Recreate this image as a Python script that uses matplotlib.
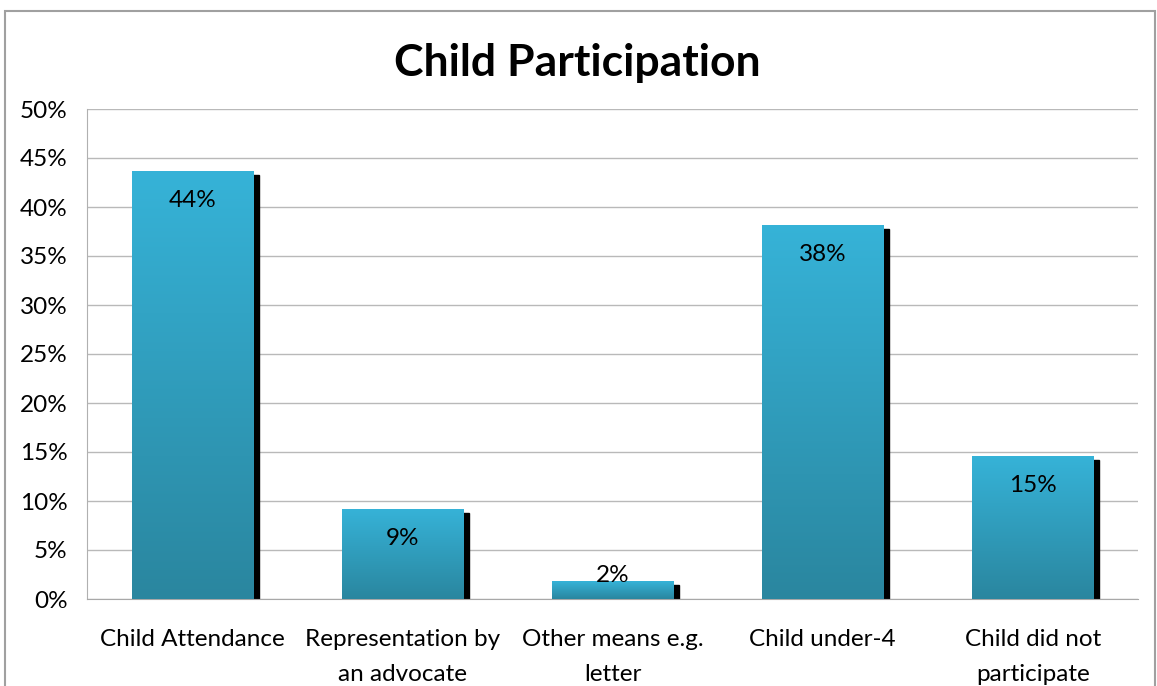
import numpy as np
import matplotlib.pyplot as plt
from matplotlib.colors import LinearSegmentedColormap
from matplotlib.transforms import ScaledTranslation
from matplotlib.patches import Rectangle

categories = ['Child Attendance', 'Representation by\nan advocate', 'Other means e.g.\nletter',
              'Child under-4', 'Child did not\nparticipate']
values = [43.7, 9.2, 1.8, 38.2, 14.6]
yticks = [0, 5, 10, 15, 20, 25, 30, 35, 40, 45, 50]

plt.rcParams['font.family'] = ['Lato', 'DejaVu Sans']

fig = plt.figure(figsize=(11.57, 6.86), dpi=100)
ax = fig.add_axes([87 / 1157, 1 - 599 / 686, (1138 - 87) / 1157, (599 - 109) / 686])

# outer chart border
fig.add_artist(Rectangle((5 / 1157, -0.1), (1155 - 5) / 1157, 1.1 - 11 / 686,
                         transform=fig.transFigure, fill=False, ec='#a0a0a0', lw=1.5))

x = np.arange(len(categories))
bars = ax.bar(x, values, width=0.576, color='none', zorder=3)

cmap = LinearSegmentedColormap.from_list('bar', ['#2a869f', '#36b3d8'])
grad = np.linspace(0, 1, 256).reshape(-1, 1)
shift = ax.transData + ScaledTranslation(6 / 100, -4 / 100, fig.dpi_scale_trans)

for b, v in zip(bars, values):
    x0, w = b.get_x(), b.get_width()
    # drop shadow to the lower right
    ax.add_patch(Rectangle((x0, 0), w, v, color='black', transform=shift, zorder=2))
    im = ax.imshow(grad, extent=[x0, x0 + w, 0, v], origin='lower', aspect='auto',
                   cmap=cmap, zorder=3)
    im.set_clip_path(b)
    # value label inside the top of the bar, or just above the baseline when short
    h_px = v / 50 * 490
    if h_px > 60:
        ax.annotate(f'{v:.0f}%', (x0 + w / 2, v), xytext=(0, -30 * 0.72),
                    textcoords='offset points', ha='center', va='center', fontsize=17.5, zorder=4)
    else:
        ax.annotate(f'{v:.0f}%', (x0 + w / 2, 0), xytext=(0, 24 * 0.72),
                    textcoords='offset points', ha='center', va='center', fontsize=17.5, zorder=4)

ax.set_xlim(-0.5, len(categories) - 0.5)
ax.set_ylim(0, 50)
ax.set_yticks(yticks)
ax.set_yticklabels([f'{t}%' for t in yticks])
ax.set_xticks(x)
ax.set_xticklabels(categories, linespacing=1.85)
ax.tick_params(axis='y', length=0, pad=14, labelsize=17.5)
ax.tick_params(axis='x', length=0, pad=21.5, labelsize=17.5)

ax.grid(axis='y', color='#b9b9b9', lw=1)
ax.set_axisbelow(True)
for s in ['top', 'right']:
    ax.spines[s].set_visible(False)
ax.spines['left'].set_color('#b0b0b0')
ax.spines['bottom'].set_color('#a8a8a8')

fig.text(577 / 1157, 1 - 63 / 686, 'Child Participation', ha='center', va='center',
         fontsize=32, fontweight='bold')

fig.savefig('out.png', dpi=100)
